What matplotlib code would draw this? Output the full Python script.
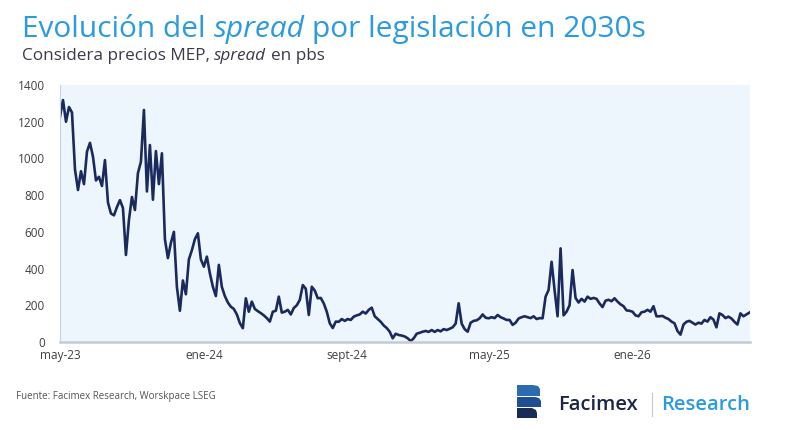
import matplotlib
matplotlib.use('agg')
import matplotlib.pyplot as plt
from matplotlib.patches import Polygon
import pandas as pd

# spread en pbs (un punto cada ~5 dias)
spread = [1227, 1318, 1200, 1280, 1250, 940, 828, 930, 860, 1037,
          1085, 1010, 880, 900, 850, 991, 760, 700, 690, 735,
          773, 730, 474, 665, 790, 719, 920, 982, 1264, 820,
          1073, 775, 1040, 860, 1028, 560, 457, 540, 600, 300,
          170, 335, 260, 450, 500, 560, 592, 450, 410, 465,
          374, 301, 250, 420, 300, 250, 215, 192, 180, 150,
          103, 75, 238, 165, 220, 180, 168, 157, 145, 130,
          111, 165, 170, 247, 160, 165, 175, 150, 185, 200,
          229, 310, 290, 147, 301, 280, 238, 240, 210, 165,
          102, 76, 111, 110, 125, 115, 125, 120, 138, 145,
          150, 165, 155, 175, 187, 140, 125, 110, 90, 76,
          56, 20, 45, 38, 35, 30, 20, 5, 20, 45,
          50, 56, 60, 55, 65, 55, 65, 58, 70, 65,
          72, 80, 100, 211, 100, 70, 56, 105, 115, 118,
          129, 150, 132, 129, 135, 130, 147, 135, 128, 120,
          120, 93, 105, 128, 135, 140, 135, 130, 140, 125,
          130, 129, 247, 283, 437, 283, 140, 510, 145, 165,
          200, 392, 240, 215, 235, 220, 247, 235, 240, 235,
          210, 190, 225, 230, 222, 238, 220, 205, 195, 172,
          170, 165, 145, 140, 162, 165, 175, 165, 195, 140,
          140, 142, 132, 125, 111, 102, 60, 40, 95, 110,
          115, 105, 95, 105, 100, 120, 111, 135, 122, 80,
          156, 147, 130, 138, 128, 110, 95, 156, 140, 150,
          160]

fechas = pd.date_range("2023-05-01", "2026-07-19", periods=len(spread))

tick_fechas = ["2023-05-01", "2024-01-01", "2024-09-01", "2025-05-01", "2026-01-01"]
tick_labels = ["may-23", "ene-24", "sept-24", "may-25", "ene-26"]
y_ticks = [0, 200, 400, 600, 800, 1000, 1200, 1400]

AZUL = "#2a9be0"
NAVY = "#1b2a5c"
FAM = ["Open Sans", "DejaVu Sans"]

plt.rcParams['font.family'] = FAM

fig = plt.figure(figsize=(8, 4.3), dpi=100)
ax = fig.add_axes([0.075, 0.2047, 0.8625, 0.5976])
ax.set_facecolor("#eef6fd")

ax.plot(fechas, spread, color=NAVY, lw=1.9, solid_joinstyle='round')

ax.set_xlim(pd.Timestamp("2023-05-01"), pd.Timestamp("2026-07-20"))
ax.set_ylim(0, 1400)
ax.set_yticks(y_ticks)
ax.set_yticklabels([str(v) for v in y_ticks])
ax.set_xticks(pd.to_datetime(tick_fechas))
ax.set_xticklabels(tick_labels)
ax.tick_params(length=0, labelsize=8.5, labelcolor="#404040")
ax.tick_params(axis="y", pad=11)
ax.tick_params(axis="x", pad=5)

for s in ["top", "right"]:
    ax.spines[s].set_visible(False)
ax.spines["left"].set_color("#c9d2de")
ax.spines["bottom"].set_color("#c3cbd6")
ax.spines["bottom"].set_linewidth(1.8)


def texto_mixto(x, y, partes, size, color, weight="normal"):
    r = fig.canvas.get_renderer()
    ref = fig.text(0, 0, "aa", fontsize=size, weight=weight)
    w_aa = ref.get_window_extent(r).width
    ref.set_text("a a")
    esp = (ref.get_window_extent(r).width - w_aa) / fig.bbox.width
    ref.remove()
    for txt, estilo in partes:
        t = fig.text(x, y, txt, fontsize=size, color=color, style=estilo,
                     weight=weight, va="baseline")
        x += t.get_window_extent(r).width / fig.bbox.width + esp


texto_mixto(0.0275, 1 - 37 / 430,
            [("Evolución del", "normal"), ("spread", "italic"),
             ("por legislación en 2030s", "normal")], 21.5, AZUL, "medium")
texto_mixto(0.0275, 1 - 60 / 430,
            [("Considera precios MEP,", "normal"), ("spread", "italic"),
             ("en pbs", "normal")], 12.3, "#3a3a48")

fig.text(0.02, 1 - 396 / 430, "Fuente: Facimex Research, Worskpace LSEG",
         fontsize=7, color="#555555", va="center")

# logo
def poly(pts, color):
    fig.patches.append(Polygon([(px / 800, 1 - py / 430) for px, py in pts],
                               closed=True, transform=fig.transFigure,
                               facecolor=color, edgecolor="none"))

poly([(517, 385), (533, 385), (538, 386), (540, 389), (540, 396), (517, 396)], "#2d6bb0")
poly([(517, 397), (535, 397), (539, 398), (541, 401), (541, 407), (517, 407)], "#1f4f92")
poly([(517, 408), (532, 408), (536, 410), (537, 413), (537, 418), (517, 418)], "#1a2b55")

fig.text(558 / 800, 1 - 405 / 430, "Facimex", fontsize=14.5, color="#1c2548",
         va="center", weight="semibold")
fig.add_artist(plt.Line2D([652 / 800, 652 / 800], [1 - 393 / 430, 1 - 416 / 430],
                          color="#c8c8c8", lw=0.8, transform=fig.transFigure))
fig.text(661 / 800, 1 - 405 / 430, "Research", fontsize=14.5, color=AZUL,
         va="center", weight="semibold")

fig.savefig("out.png", dpi=100)
